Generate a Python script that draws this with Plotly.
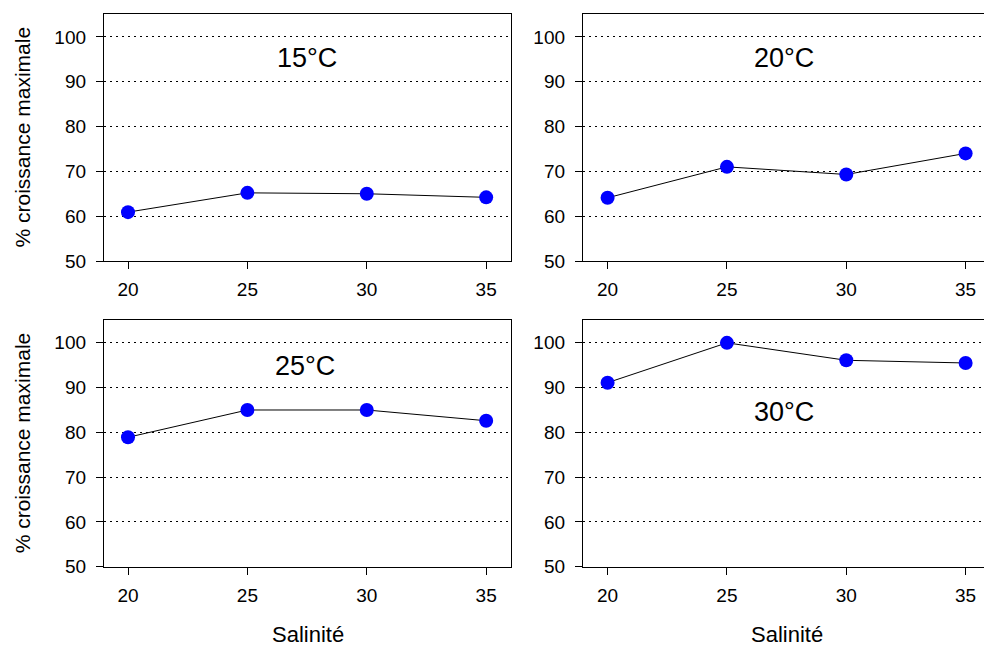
import plotly.graph_objects as go

salinity = [20, 25, 30, 35]
temps = ["15°C", "20°C", "25°C", "30°C"]
growth_15 = [60.9, 65.2, 65.0, 64.2]
growth_20 = [64.1, 71.0, 69.3, 74.0]
growth_25 = [78.9, 85.0, 85.0, 82.6]
growth_30 = [91.1, 100.0, 96.1, 95.5]
series = [growth_15, growth_20, growth_25, growth_30]
label_pos = [(27.5, 95.3), (27.4, 95.3), (27.4, 94.8), (27.4, 84.6)]
yticks = [50, 60, 70, 80, 90, 100]
xticks = [20, 25, 30, 35]

W, H = 984, 648
FONT = "Liberation Sans, Arial, sans-serif"

fig = go.Figure()

xdom = [[104 / W, 511 / W], [583 / W, 1.0]]
xrng = [[18.995, 36.04], [18.97, 35.77]]
ydom = [[1 - 261 / H, 1 - 14 / H], [1 - 566.7 / H, 1 - 320 / H]]

for i, (vals, t) in enumerate(zip(series, temps)):
    row, col = divmod(i, 2)
    n = i + 1
    xa = "x" if n == 1 else f"x{n}"
    ya = "y" if n == 1 else f"y{n}"
    fig.add_trace(go.Scatter(
        x=salinity, y=vals, xaxis=xa, yaxis=ya, mode="lines+markers",
        line=dict(color="black", width=1),
        marker=dict(color="#0000FF", size=14),
        showlegend=False, hoverinfo="skip"))
    xkey = "xaxis" if n == 1 else f"xaxis{n}"
    ykey = "yaxis" if n == 1 else f"yaxis{n}"
    fig.update_layout(**{
        xkey: dict(domain=xdom[col], range=xrng[col], anchor=ya,
                   tickvals=xticks, ticks="outside", ticklen=7, tickwidth=1,
                   tickcolor="black", showline=True, linecolor="black",
                   linewidth=1.3, mirror=True, showgrid=False, zeroline=False,
                   tickfont=dict(family=FONT, size=19, color="black"),
                   ticklabelstandoff=4, automargin=False),
        ykey: dict(domain=ydom[row], range=[50, 105.1], anchor=xa,
                   tickvals=yticks, ticks="outside", ticklen=7, tickwidth=1,
                   tickcolor="black", showline=True, linecolor="black",
                   linewidth=1.3, mirror=(col == 0), showgrid=True,
                   gridcolor="black", gridwidth=1, griddash="2px,4px",
                   zeroline=False,
                   tickfont=dict(family=FONT, size=19, color="black"),
                   ticklabelstandoff=6, automargin=False),
    })
    lx, ly = label_pos[i]
    fig.add_annotation(x=lx, y=ly, xref=xa, yref=ya, text=t, showarrow=False,
                       font=dict(family=FONT, size=27, color="black"),
                       xanchor="center", yanchor="middle")

# axis titles
for col in range(2):
    cx = (xdom[col][0] + (511 / W if col == 0 else 990 / W)) / 2
    fig.add_annotation(x=cx, y=0, xref="paper", yref="paper",
                       text="Salinité", showarrow=False, borderpad=0,
                       font=dict(family=FONT, size=22, color="black"),
                       xanchor="center", yanchor="bottom")
for row in range(2):
    cy = sum(ydom[row]) / 2
    fig.add_annotation(x=22 / W, y=cy, xref="paper", yref="paper",
                       text="% croissance maximale", showarrow=False,
                       textangle=-90,
                       font=dict(family=FONT, size=21, color="black"),
                       xanchor="center", yanchor="middle")

fig.update_layout(width=W, height=H,
                  margin=dict(l=0, r=0, t=0, b=0, autoexpand=False),
                  plot_bgcolor="white", paper_bgcolor="white")

fig.write_html("out.html")
